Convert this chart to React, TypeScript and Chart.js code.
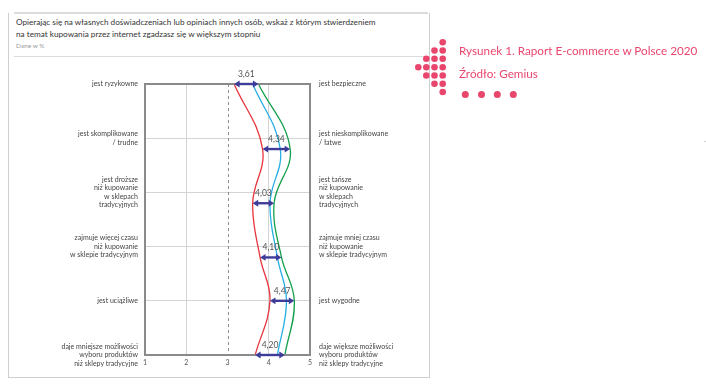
import React, { useEffect, useRef } from "react";
import { Chart, registerables } from "chart.js";
Chart.register(...registerables);

// ---- data ----
const leftLabels: string[][] = [
  ["jest ryzykowne"],
  ["jest skomplikowane", "/ trudne"],
  ["jest droższe", "niż kupowanie", "w sklepach", "tradycyjnych"],
  ["zajmuje więcej czasu", "niż kupowanie", "w sklepie tradycyjnym"],
  ["jest uciążliwe"],
  ["daje mniejsze możliwości", "wyboru produktów", "niż sklepy tradycyjne"],
];
const rightLabels: string[][] = [
  ["jest bezpieczne"],
  ["jest nieskomplikowane", "/ łatwe"],
  ["jest tańsze", "niż kupowanie", "w sklepach", "tradycyjnych"],
  ["zajmuje mniej czasu", "niż kupowanie", "w sklepie tradycyjnym"],
  ["jest wygodne"],
  ["daje większe możliwości", "wyboru produktów", "niż sklepy tradycyjne"],
];
const xTickValues = [1, 2, 3, 4, 5];
// row position of each statement on the vertical scale (0 = top, 5 = bottom)
const rowPos = [0, 1.2, 2.2, 3.2, 4, 5];
const seriesRed = [3.16, 3.85, 3.61, 3.79, 4.03, 3.67];
const seriesBlue = [3.61, 4.28, 4.03, 4.21, 4.43, 4.21];
const seriesGreen = [3.75, 4.52, 4.13, 4.31, 4.62, 4.39];
const averages = [3.61, 4.34, 4.03, 4.1, 4.47, 4.2];

const FONT = "Lato, 'Open Sans', sans-serif";

const overlay = {
  id: "overlay",
  beforeDatasetsDraw(chart: any) {
    const { ctx, chartArea: a, scales } = chart;
    const px = Math.round(scales.x.getPixelForValue(3)) + 0.5;
    ctx.save();
    ctx.strokeStyle = "#8c8c8c";
    ctx.lineWidth = 1;
    ctx.setLineDash([3, 3]);
    ctx.beginPath();
    ctx.moveTo(px, a.top);
    ctx.lineTo(px, a.bottom);
    ctx.stroke();
    ctx.restore();
  },
  afterDatasetsDraw(chart: any) {
    const { ctx, chartArea: a, scales } = chart;
    ctx.save();
    ctx.strokeStyle = "#8a8a8a";
    ctx.lineWidth = 2;
    ctx.strokeRect(a.left, a.top, a.width, a.height);
    const col = "#3d3d99";
    rowPos.forEach((r, i) => {
      const y = scales.y.getPixelForValue(r);
      const lo = Math.min(seriesRed[i], seriesBlue[i], seriesGreen[i]);
      const hi = Math.max(seriesRed[i], seriesBlue[i], seriesGreen[i]);
      const x1 = scales.x.getPixelForValue(lo);
      const x2 = scales.x.getPixelForValue(hi);
      const hl = 5.5, hw = 3.4;
      ctx.strokeStyle = col;
      ctx.fillStyle = col;
      ctx.lineWidth = 2.4;
      ctx.beginPath();
      ctx.moveTo(x1 + hl - 1, y);
      ctx.lineTo(x2 - hl + 1, y);
      ctx.stroke();
      ctx.beginPath();
      ctx.moveTo(x1, y);
      ctx.lineTo(x1 + hl, y - hw);
      ctx.lineTo(x1 + hl, y + hw);
      ctx.closePath();
      ctx.fill();
      ctx.beginPath();
      ctx.moveTo(x2, y);
      ctx.lineTo(x2 - hl, y - hw);
      ctx.lineTo(x2 - hl, y + hw);
      ctx.closePath();
      ctx.fill();
      ctx.fillStyle = "#555";
      ctx.font = `8.5px ${FONT}`;
      ctx.textAlign = "center";
      ctx.textBaseline = "middle";
      ctx.fillText(averages[i].toFixed(2).replace(".", ","), (x1 + x2) / 2, y - 10);
    });
    ctx.restore();
  },
};

export default function App() {
  const ref = useRef<HTMLCanvasElement>(null);
  useEffect(() => {
    const toPts = (arr: number[]) => arr.map((v, i) => ({ x: v, y: rowPos[i] }));
    const ds = (data: number[], color: string) => ({
      data: toPts(data),
      borderColor: color,
      backgroundColor: color,
      borderWidth: 1.3,
      pointRadius: 0,
      showLine: true,
      tension: 0.4,
      fill: false,
    });
    const chart = new Chart(ref.current!, {
      type: "scatter",
      data: {
        datasets: [
          ds(seriesRed, "#e8343c"),
          ds(seriesBlue, "#27aee6"),
          ds(seriesGreen, "#14a04c"),
        ],
      },
      options: {
        animation: false,
        responsive: false,
        devicePixelRatio: 1,
        layout: { padding: { top: 24, left: 0, right: 0, bottom: 0 } },
        plugins: { legend: { display: false }, tooltip: { enabled: false } },
        scales: {
          x: {
            type: "linear",
            min: 1,
            max: 5,
            afterBuildTicks: (s: any) => {
              s.ticks = xTickValues.map((v) => ({ value: v }));
            },
            afterFit: (s: any) => {
              s.height = 20;
            },
            border: { display: false },
            grid: {
              drawTicks: false,
              color: (c: any) =>
                c.tick && (c.tick.value === 2 || c.tick.value === 4) ? "#d4d4d4" : "rgba(0,0,0,0)",
              lineWidth: 1,
            },
            ticks: { padding: 4, color: "#555", font: { family: FONT, size: 7 } },
          },
          y: {
            type: "linear",
            position: "left",
            reverse: true,
            min: 0,
            max: 5,
            afterBuildTicks: (s: any) => {
              s.ticks = leftLabels.map((_, i) => ({ value: i }));
            },
            afterFit: (s: any) => {
              s.width = 145;
            },
            border: { display: false },
            grid: {
              drawTicks: false,
              color: (c: any) =>
                c.tick && c.tick.value > 0 && c.tick.value < 5 ? "#d4d4d4" : "rgba(0,0,0,0)",
            },
            ticks: {
              padding: 7,
              color: "#444",
              font: { family: FONT, size: 7, lineHeight: 1.22 },
              callback: (v: any) => leftLabels[Math.round(Number(v))],
            },
          },
          y2: {
            type: "linear",
            position: "right",
            reverse: true,
            min: 0,
            max: 5,
            afterBuildTicks: (s: any) => {
              s.ticks = rightLabels.map((_, i) => ({ value: i }));
            },
            afterFit: (s: any) => {
              s.width = 130;
            },
            border: { display: false },
            grid: { drawTicks: false, drawOnChartArea: false },
            ticks: {
              padding: 9,
              color: "#444",
              font: { family: FONT, size: 7, lineHeight: 1.22 },
              callback: (v: any) => rightLabels[Math.round(Number(v))],
            },
          },
        },
      } as any,
      plugins: [overlay],
    });
    return () => chart.destroy();
  }, []);

  const gridDots: [number, number][] = [];
  const cols = [418.3, 426.3, 434.5, 442.7];
  const rows = [42.3, 50.5, 58.8, 67.2, 75.5, 83.8, 92];
  // column -> visible rows
  const colRows = [[3], [2, 3, 4], [1, 2, 3, 4, 5], [0, 1, 2, 3, 4, 5, 6]];
  colRows.forEach((rs, ci) => rs.forEach((ri) => gridDots.push([cols[ci], rows[ri]])));
  const bottomDots = [465.3, 481.5, 497.3, 513.3];

  return (
    <div
      style={{
        position: "fixed",
        left: 0,
        top: 0,
        width: 706,
        height: 387,
        background: "#fff",
        fontFamily: FONT,
        overflow: "hidden",
      }}
    >
      <div
        style={{
          position: "absolute",
          left: 8,
          top: 13,
          width: 420,
          height: 364,
          border: "1px solid #cfcfcf",
          borderTop: "none",
        }}
      />
      <div style={{ position: "absolute", left: 14, top: 12, width: 414, height: 2, background: "#dcdcdc" }} />
      <div style={{ position: "absolute", left: 14, top: 56, width: 414, height: 1, background: "#dcdcdc" }} />
      <div style={{ position: "absolute", left: 16, top: 16, fontSize: 8.2, lineHeight: "12px", color: "#333", whiteSpace: "nowrap" }}>
        Opierając się na własnych doświadczeniach lub opiniach innych osób, wskaż z którym stwierdzeniem
        <br />
        na temat kupowania przez internet zgadzasz się w większym stopniu
      </div>
      <div style={{ position: "absolute", left: 16, top: 42, fontSize: 6.5, lineHeight: "8px", color: "#9a9a9a" }}>Dane w %</div>
      <div style={{ position: "absolute", left: 0, top: 60, width: 440, height: 315 }}>
        <canvas ref={ref} width={440} height={315} style={{ width: 440, height: 315, display: "block" }} />
      </div>
      <svg style={{ position: "absolute", left: 0, top: 0 }} width={706} height={387}>
        {gridDots.map(([x, y], i) => (
          <circle key={"g" + i} cx={x} cy={y} r={3.3} fill="#e9466d" />
        ))}
        {bottomDots.map((x, i) => (
          <circle key={"b" + i} cx={x} cy={94.5} r={3.5} fill="#e9466d" />
        ))}
        <circle cx={705} cy={141.5} r={0.7} fill="#bbb" />
      </svg>
      <div style={{ position: "absolute", left: 459, top: 42, fontSize: 11.7, lineHeight: "16px", color: "#e9466d", whiteSpace: "nowrap" }}>
        Rysunek 1. Raport E-commerce w Polsce 2020
      </div>
      <div style={{ position: "absolute", left: 459, top: 65, fontSize: 11.7, lineHeight: "16px", color: "#e9466d", whiteSpace: "nowrap" }}>
        Źródło: Gemius
      </div>
    </div>
  );
}
